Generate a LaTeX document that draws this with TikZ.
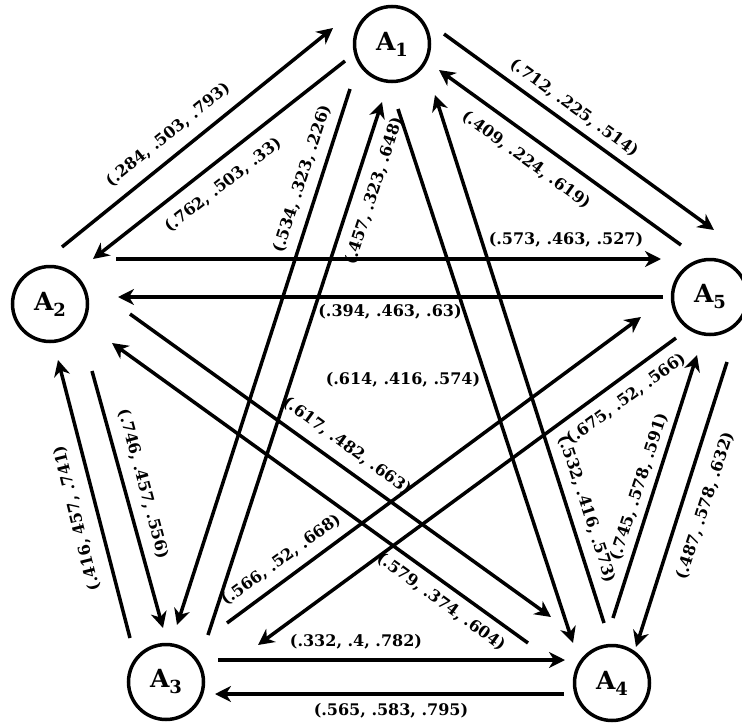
\documentclass[tikz,border=0pt]{standalone}
\usepackage{fontspec}
\setmainfont{DejaVu Serif}
\usetikzlibrary{arrows.meta,calc}
\newcommand\vlab[1]{A\raisebox{-6pt}{\fontsize{18}{18}\selectfont #1}}
\begin{document}
\begin{tikzpicture}[x=1pt,y=-1pt,
  vert/.style={circle,draw,line width=3.5pt,minimum size=75pt,inner sep=0pt,font=\fontsize{25}{25}\selectfont\bfseries},
  arr/.style={line width=3.5pt,-{Stealth[length=16pt,width=16pt,inset=5pt]}},
  lab/.style={font=\fontsize{16}{16}\selectfont\bfseries,inner sep=0pt}]
\useasboundingbox (0,0) rectangle (742,723);
% vertices
\node[vert] (A1) at (392,44) {\vlab{1}};
\node[vert] (A2) at (50,304) {\vlab{2}};
\node[vert] (A3) at (166,682) {\vlab{3}};
\node[vert] (A4) at (612,683) {\vlab{4}};
\node[vert] (A5) at (710,297) {\vlab{5}};
% A1-A2
\draw[arr] ($(A2)+(12,-57)$) -- ($(A1)+(-59,-16)$);
\draw[arr] ($(A1)+(-47,17)$) -- ($(A2)+(43,-45)$);
% A1-A3
\draw[arr] ($(A1)+(-42,45)$) -- ($(A3)+(11,-57)$);
\draw[arr] ($(A3)+(42,-47)$) -- ($(A1)+(-10,58)$);
% A1-A4
\draw[arr] ($(A1)+(6,65)$) -- ($(A4)+(-39,-40)$);
\draw[arr] ($(A4)+(-8,-60)$) -- ($(A1)+(43,51)$);
% A1-A5
\draw[arr] ($(A1)+(52,-10)$) -- ($(A5)+(4,-67)$);
\draw[arr] ($(A5)+(-29,-52)$) -- ($(A1)+(47,26)$);
% A2-A5
\draw[arr] ($(A2)+(66,-45)$) -- ($(A5)+(-49,-38)$);
\draw[arr] ($(A5)+(-47,0)$) -- ($(A2)+(68,-7)$);
% A2-A3
\draw[arr] ($(A2)+(42,67)$) -- ($(A3)+(-3,-54)$);
\draw[arr] ($(A3)+(-36,-44)$) -- ($(A2)+(8,56)$);
% A2-A4
\draw[arr] ($(A2)+(80,10)$) -- ($(A4)+(-61,-66)$);
\draw[arr] ($(A4)+(-84,-40)$) -- ($(A2)+(62,39)$);
% A3-A4
\draw[arr] ($(A3)+(52,-22)$) -- ($(A4)+(-47,-23)$);
\draw[arr] ($(A4)+(-48,11)$) -- ($(A3)+(49,12)$);
% A3-A5
\draw[arr] ($(A3)+(61,-59)$) -- ($(A5)+(-69,20)$);
\draw[arr] ($(A5)+(-34,41)$) -- ($(A3)+(92,-37)$);
% A4-A5
\draw[arr] ($(A4)+(1,-65)$) -- ($(A5)+(-13,58)$);
\draw[arr] ($(A5)+(17,65)$) -- ($(A4)+(24,-36)$);
% labels
\node[lab,rotate=39] (l1) at (168,135) {(.284, .503, .793)};
\node[lab,rotate=38] (l2) at (223,185) {(.762, .503, .33)};
\node[lab,rotate=72] (l3) at (302,179) {(.534, .323, .226)};
\node[lab,rotate=72] (l4) at (374,191) {(.457, .323, .648)};
\node[lab,rotate=-36] (l5) at (574,108) {(.712, .225, .514)};
\node[lab,rotate=-36] (l6) at (526,160) {(.409, .224, .619)};
\node[lab] (l7) at (566,240) {(.573, .463, .527)};
\node[lab] (l8) at (390,312) {(.394, .463, .63)};
\node[lab] (l9) at (403,380) {(.614, .416, .574)};
\node[lab,rotate=-72] (l10) at (587,509) {(.532, .416, .573)};
\node[lab,rotate=-36] (l11) at (347,446) {(.617, .482, .663)};
\node[lab,rotate=-36] (l12) at (441,602) {(.579, .374, .604)};
\node[lab,rotate=-75] (l13) at (143,484) {(.746, .457, .556)};
\node[lab,rotate=104] (l14) at (77,518) {(.416, 457, .741)};
\node[lab] (l15) at (356,642) {(.332, .4, .782)};
\node[lab] (l16) at (391,711) {(.565, .583, .795)};
\node[lab,rotate=36] (l17) at (281,560) {(.566, .52, .668)};
\node[lab,rotate=36] (l18) at (626,399) {(.675, .52, .566)};
\node[lab,rotate=72] (l19) at (639,487) {(.745, .578, .591)};
\node[lab,rotate=72] (l20) at (705,506) {(.487, .578, .632)};
\end{tikzpicture}
\end{document}
